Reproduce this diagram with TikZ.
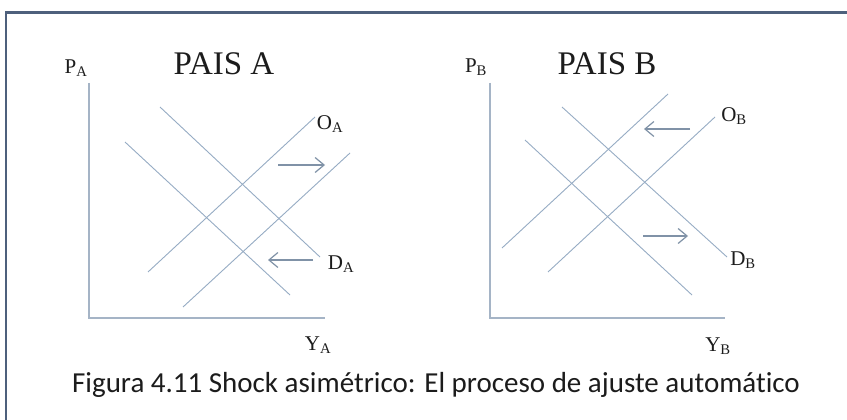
\documentclass[tikz,border=0pt]{standalone}
\usepackage{fontspec}
\setmainfont{Liberation Serif}
\newfontfamily\captionfont[Ligatures={NoCommon}]{Carlito}
\usepackage[dvipsnames]{xcolor}
\usetikzlibrary{arrows.meta}
\definecolor{curvecol}{RGB}{150,172,196}
\definecolor{axiscol}{RGB}{165,180,198}
\definecolor{framecol}{RGB}{78,96,124}
\definecolor{textcol}{RGB}{28,28,28}

\begin{document}
\begin{tikzpicture}[x=1pt,y=-1pt,
      curve/.style={draw=curvecol,line width=0.9pt},
      axis/.style={draw=axiscol,line width=1.3pt},
      shiftarrow/.style={-{Straight Barb[length=9pt,width=15pt,line width=1.2pt]},draw=curvecol!85!black,line width=1.1pt},
      lab/.style={text=textcol,font=\fontsize{21}{21}\selectfont,inner sep=0pt},
      title/.style={text=textcol,font=\fontsize{33}{33}\selectfont,inner sep=0pt}]
    \useasboundingbox[fill=white] (0,0) rectangle (847,420);
    \draw[framecol,line width=2.8pt] (6,430) -- (6,12.5) -- (860,12.5);
    % pais A
    \coordinate (OA1) at (148,272);
    \coordinate (OA2) at (315,117);
    \coordinate (OA3) at (183,307);
    \coordinate (OA4) at (350,153);
    \coordinate (DA1) at (125,142);
    \coordinate (DA2) at (290,295);
    \coordinate (DA3) at (160,107);
    \coordinate (DA4) at (320,257);
    \coordinate (origA) at (89,318);
    \coordinate (topA) at (89,83);
    \coordinate (endA) at (325,318);
    \coordinate (ra1) at (278,165);
    \coordinate (ra2) at (325,165);
    \coordinate (la1) at (313,260);
    \coordinate (la2) at (268,260);
    \draw[axis] (topA) -- (origA) -- (endA);
    \draw[curve] (OA1) -- (OA2);
    \draw[curve] (OA3) -- (OA4);
    \draw[curve] (DA1) -- (DA2);
    \draw[curve] (DA3) -- (DA4);
    \draw[shiftarrow] (ra1) -- (ra2);
    \draw[shiftarrow] (la1) -- (la2);
    \node[lab] (PA) at (76,68) {P$_{\mathrm{A}}$};
    \node[title] (titleA) at (224,64) {PAIS A};
    \node[lab] (OAlab) at (330,124) {O$_{\mathrm{A}}$};
    \node[lab] (DAlab) at (341,264) {D$_{\mathrm{A}}$};
    \node[lab] (YA) at (318,345) {Y$_{\mathrm{A}}$};
    % pais B
    \coordinate (OB1) at (502,248);
    \coordinate (OB2) at (668,94);
    \coordinate (OB3) at (548,272);
    \coordinate (OB4) at (715,117);
    \coordinate (DB1) at (525,140);
    \coordinate (DB2) at (692,295);
    \coordinate (DB3) at (562,107);
    \coordinate (DB4) at (727,257);
    \coordinate (origB) at (490,318);
    \coordinate (topB) at (490,83);
    \coordinate (endB) at (725,318);
    \coordinate (lb1) at (690,129);
    \coordinate (lb2) at (644,129);
    \coordinate (rb1) at (643,236);
    \coordinate (rb2) at (688,236);
    \draw[axis] (topB) -- (origB) -- (endB);
    \draw[curve] (OB1) -- (OB2);
    \draw[curve] (OB3) -- (OB4);
    \draw[curve] (DB1) -- (DB2);
    \draw[curve] (DB3) -- (DB4);
    \draw[shiftarrow] (lb1) -- (lb2);
    \draw[shiftarrow] (rb1) -- (rb2);
    \node[lab] (PB) at (476,67) {P$_{\mathrm{B}}$};
    \node[title] (titleB) at (607,64) {PAIS B};
    \node[lab] (OBlab) at (734,116) {O$_{\mathrm{B}}$};
    \node[lab] (DBlab) at (743,260) {D$_{\mathrm{B}}$};
    \node[lab] (YB) at (718,346) {Y$_{\mathrm{B}}$};
    % pie de figura
    \node[text=textcol,font=\captionfont\fontsize{29}{30}\selectfont,inner sep=0pt]
      (caption) at (436,385) {Figura 4.11 Shock asimétrico: El proceso de ajuste automático};
  \end{tikzpicture}
\end{document}
